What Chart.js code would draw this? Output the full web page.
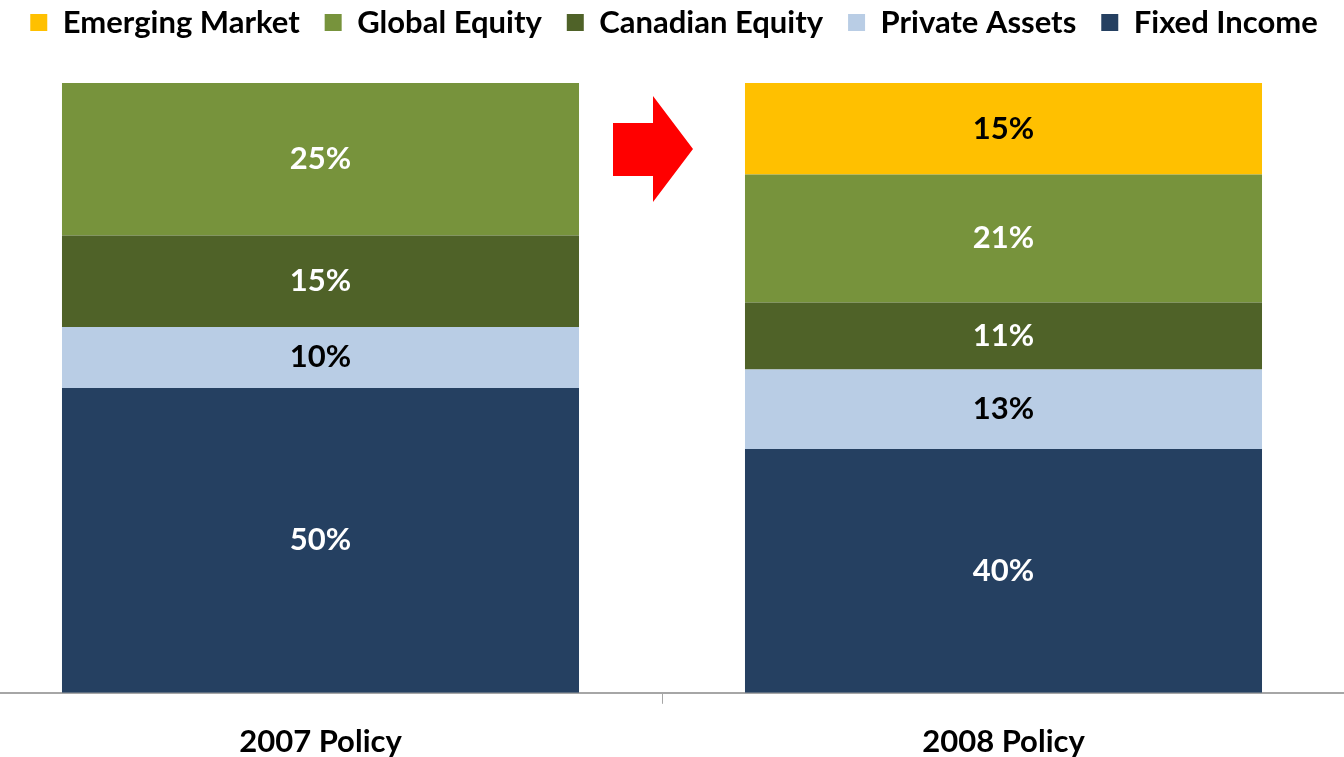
<!DOCTYPE html>
<html>
<head>
<meta charset="utf-8">
<script src="https://cdn.jsdelivr.net/npm/chart.js@4"></script>
<style>
  html, body { margin: 0; padding: 0; background: #fff; }
  #wrap { width: 1344px; height: 757px; overflow: hidden; position: relative; }
  #box { position: absolute; left: -21px; top: 0; width: 1366px; height: 757px; }
</style>
</head>
<body>
<div id="wrap"><div id="box"><canvas id="myChart"></canvas></div></div>
<script>
const categories = ['2007 Policy', '2008 Policy'];
const seriesNames = ['Fixed Income', 'Private Assets', 'Canadian Equity', 'Global Equity', 'Emerging Market'];
const fixedIncome = [50, 40];
const privateAssets = [10, 13];
const canadianEquity = [15, 11];
const globalEquity = [25, 21];
const emergingMarket = [0, 15];

const colors = ['#254061', '#B9CDE5', '#4F6228', '#77933C', '#FFC000'];
const labelColors = ['#ffffff', '#000000', '#ffffff', '#ffffff', '#000000'];
const values = [fixedIncome, privateAssets, canadianEquity, globalEquity, emergingMarket];

const FONT = 'Lato, Calibri, sans-serif';

// value labels inside each segment
const segmentLabels = {
    id: 'segmentLabels',
    afterDatasetsDraw(chart) {
        const ctx = chart.ctx;
        ctx.save();
        ctx.font = 'bold 31px ' + FONT;
        ctx.textAlign = 'center';
        ctx.textBaseline = 'middle';
        chart.data.datasets.forEach((ds, i) => {
            chart.getDatasetMeta(i).data.forEach((bar, j) => {
                if (!ds.data[j]) return;
                ctx.fillStyle = labelColors[i];
                ctx.fillText(ds.data[j] + '%', bar.x, (bar.y + bar.base) / 2);
            });
        });
        ctx.restore();
    }
};

// red arrow between the two bars
const arrow = {
    id: 'arrow',
    afterDraw(chart) {
        const x = chart.scales.x, y = chart.scales.y;
        const mid = x.getPixelForValue(0.5);
        const top = y.getPixelForValue(100);
        const ctx = chart.ctx;
        ctx.save();
        ctx.fillStyle = '#FF0000';
        ctx.beginPath();
        ctx.moveTo(mid - 49, top + 40);
        ctx.lineTo(mid - 9, top + 40);
        ctx.lineTo(mid - 9, top + 13);
        ctx.lineTo(mid + 31, top + 66);
        ctx.lineTo(mid - 9, top + 119);
        ctx.lineTo(mid - 9, top + 93);
        ctx.lineTo(mid - 49, top + 93);
        ctx.closePath();
        ctx.fill();
        ctx.restore();
    }
};

// legend sits a bit right of the plot centre and close to the top edge
const legendShift = {
    id: 'legendShift',
    afterLayout(chart) {
        const lg = chart.legend;
        lg.left += 12;
        lg.right += 12;
        lg.top -= 35;
        lg.bottom -= 35;
    }
};

new Chart(document.getElementById('myChart'), {
    type: 'bar',
    data: {
        labels: categories,
        datasets: seriesNames.map((name, i) => ({
            label: name,
            data: values[i],
            backgroundColor: colors[i],
            categoryPercentage: 1,
            barPercentage: 0.757
        }))
    },
    options: {
        responsive: true,
        maintainAspectRatio: false,
        animation: false,
        layout: { padding: { top: 17, bottom: -24 } },
        scales: {
            x: {
                stacked: true,
                grid: { drawOnChartArea: false, drawTicks: true, tickLength: 11, color: '#a6a6a6' },
                border: { color: '#a6a6a6', width: 2 },
                ticks: { color: '#000', padding: 20, font: { family: FONT, size: 31, weight: 'bold' } }
            },
            y: {
                stacked: true,
                display: false,
                min: 0,
                max: 100
            }
        },
        plugins: {
            legend: {
                display: true,
                position: 'top',
                reverse: true,
                labels: {
                    color: '#000',
                    boxWidth: 17,
                    boxHeight: 17,
                    padding: 25,
                    font: { family: FONT, size: 31, weight: 'bold' }
                }
            },
            tooltip: { enabled: false }
        }
    },
    plugins: [segmentLabels, arrow, legendShift]
});
</script>
</body>
</html>
